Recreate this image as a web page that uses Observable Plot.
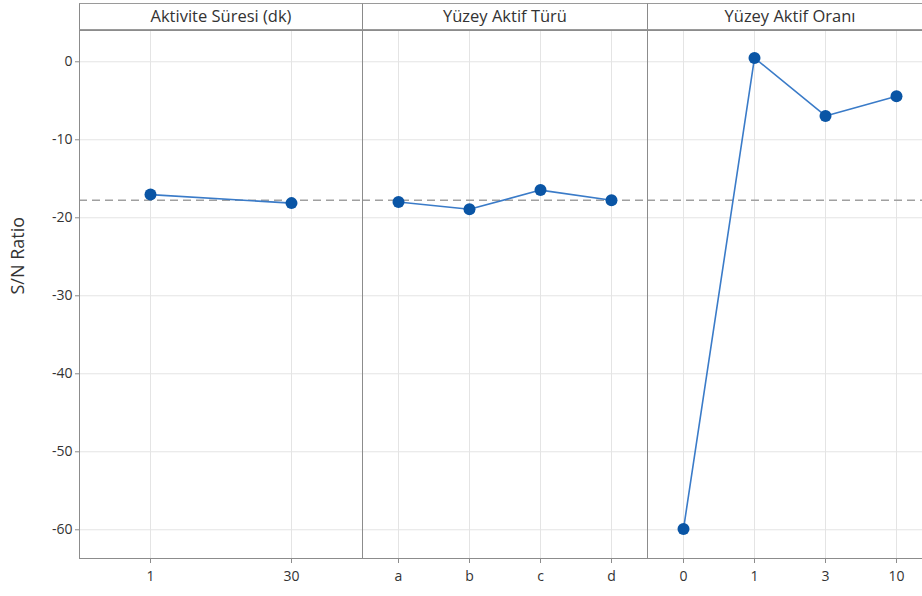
<!DOCTYPE html>
<html><head><meta charset="utf-8">
<script src="https://cdn.jsdelivr.net/npm/d3@7"></script>
<script src="https://cdn.jsdelivr.net/npm/@observablehq/plot@0.6"></script>
<style>
body{margin:0;background:#fff;overflow:hidden;font-family:"Open Sans","Noto Sans",sans-serif;}
#row{display:flex;padding-top:3px;width:1000px;}
.col{flex:none;}
.hdr{box-sizing:border-box;height:27px;border-top:1px solid #9a9a9a;border-bottom:1px solid #9a9a9a;border-left:1px solid #8a8a8a;text-align:center;font-size:16.5px;color:#333;line-height:24px;white-space:nowrap;}
</style></head><body><div id="row"></div>
<script>
const panelTitles = ["Aktivite Süresi (dk)", "Yüzey Aktif Türü", "Yüzey Aktif Oranı"];
const levelsSure = ["1", "30"];
const snSure = [-17.03, -18.12];
const levelsTur = ["a", "b", "c", "d"];
const snTur = [-17.97, -18.91, -16.45, -17.76];
const levelsOran = ["0", "1", "3", "10"];
const snOran = [-59.9, 0.49, -6.95, -4.42];
const grandMean = -17.76;
const yTicks = [0, -10, -20, -30, -40, -50, -60];
const yLabel = "S/N Ratio";
const yDomain = [-63.68, 4.01];

function panel(title, levels, values, width, marginLeft, showY) {
  const data = levels.map((l, i) => ({level: l, sn: values[i]}));
  const marks = [
    Plot.gridY(yTicks, {stroke: "#e4e4e4", strokeOpacity: 1}),
    Plot.gridX({stroke: "#e4e4e4", strokeOpacity: 1}),
    Plot.ruleY([grandMean], {stroke: "#a0a0a0", strokeWidth: 1.5, strokeDasharray: "8,5"}),
    Plot.line(data, {x: "level", y: "sn", stroke: "#3a7bc8", strokeWidth: 1.6}),
    Plot.dot(data, {x: "level", y: "sn", r: 6, fill: "#0a55a5", stroke: "none"}),
    Plot.axisX({tickSize: 5, tickPadding: 8, fontSize: 14, label: null, stroke: "#8c8c8c"}),
    Plot.frame({stroke: "#8c8c8c"})
  ];
  if (showY) {
    marks.push(Plot.axisY(yTicks, {tickSize: 4, tickPadding: 3, fontSize: 14, label: null, tickFormat: d => String(d), stroke: "#8c8c8c"}));
    marks.push(Plot.text([yLabel], {frameAnchor: "left", dx: -61, rotate: -90, fontSize: 18, fill: "#333"}));
  }
  const svg = Plot.plot({
    width, height: 566,
    marginLeft, marginRight: 0, marginTop: 0, marginBottom: 38,
    x: {type: "point", domain: levels, padding: 0.5},
    y: {domain: yDomain, axis: showY ? undefined : null},
    style: {overflow: "visible", fontFamily: "'Open Sans','Noto Sans',sans-serif", fontSize: "14px", color: "#333", background: "transparent"},
    marks
  });
  const col = document.createElement("div");
  col.className = "col";
  col.style.width = width + "px";
  const hdr = document.createElement("div");
  hdr.className = "hdr";
  hdr.style.marginLeft = marginLeft + "px";
  hdr.style.width = (width - marginLeft) + "px";
  hdr.textContent = title;
  col.appendChild(hdr);
  col.appendChild(svg);
  document.getElementById("row").appendChild(col);
}

panel(panelTitles[0], levelsSure, snSure, 362, 79, true);
panel(panelTitles[1], levelsTur, snTur, 285, 0, false);
panel(panelTitles[2], levelsOran, snOran, 285, 0, false);
</script>
</body></html>
